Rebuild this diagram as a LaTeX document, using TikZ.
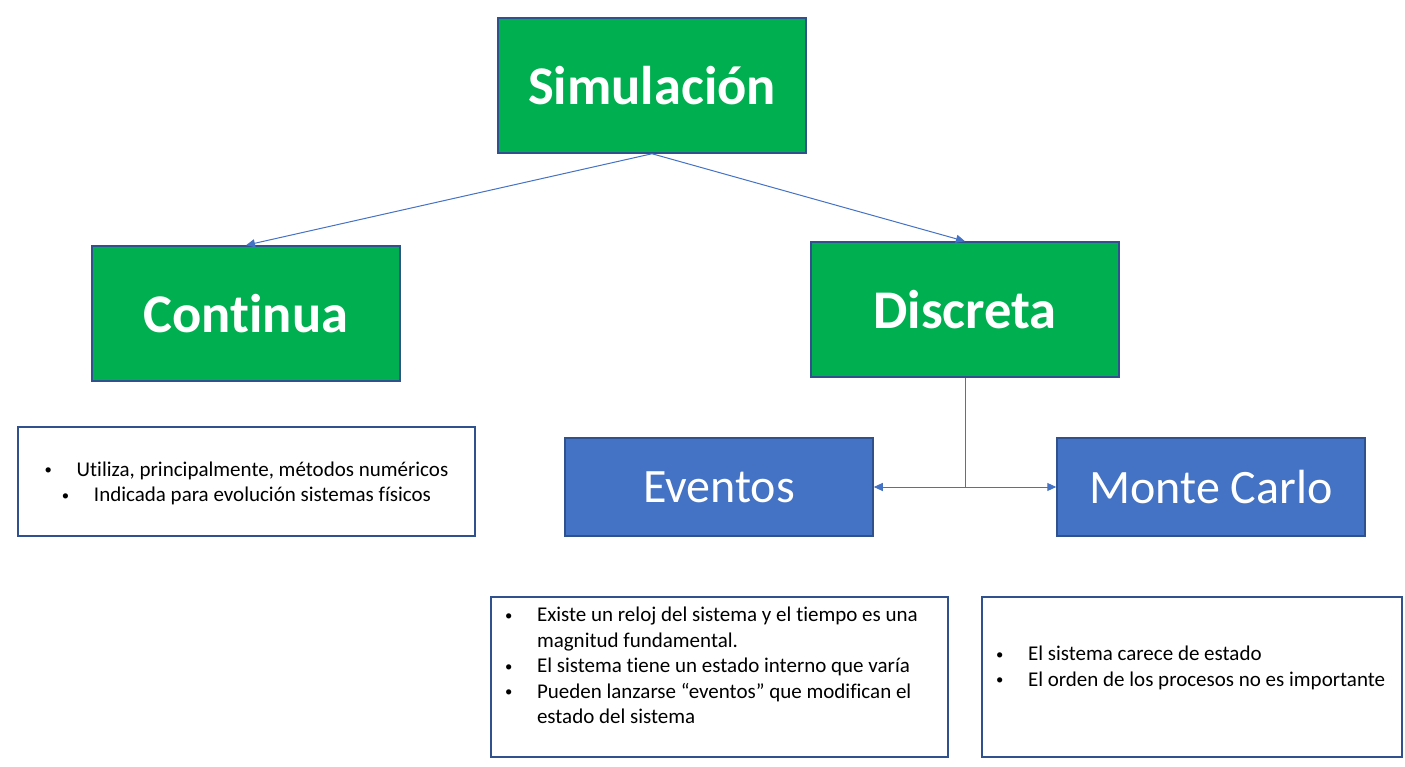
\documentclass[tikz,border=0pt]{standalone}
\usepackage{fontspec}
\setmainfont{Carlito}[Ligatures=NoCommon]
\usetikzlibrary{positioning}
\usetikzlibrary{calc}
\usetikzlibrary{arrows.meta}
\definecolor{boxgreen}{HTML}{00B050}
\definecolor{boxblue}{HTML}{4472C4}
\definecolor{boxborder}{HTML}{2F528F}
\newcommand{\dotmark}{\raisebox{1.8pt}{\scalebox{0.7}{\textbullet}}}
\newcommand{\bitem}[1]{\par\noindent\hangindent=32pt\hangafter=1\makebox[32pt][l]{\dotmark}#1}

\begin{document}
\begin{tikzpicture}[x=1pt,y=-1pt]
		\tikzset{
			titlebox/.style={draw=boxborder,line width=1.5pt,fill=boxgreen,text=white,
				minimum width=308pt,minimum height=135pt,font=\fontsize{54.5}{60}\selectfont\bfseries},
			subbox/.style={draw=boxborder,line width=1.5pt,fill=boxblue,text=white,
				minimum width=308pt,minimum height=98pt,font=\fontsize{48}{54}\selectfont},
			notebox/.style={draw=boxborder,line width=1.5pt,fill=white,text=black,inner sep=0pt,
				font=\fontsize{21}{25.5}\selectfont},
		}
		\tikzset{
			edge/.style={color=boxblue,line width=1pt,-{Triangle[length=9pt,width=8pt]}},
		}
		\useasboundingbox (0,0) rectangle (1405,767);
		
		\node[titlebox] (sim) at (652, 85.5) {Simulación};
		\node[titlebox] (cont) at (246, 313.5) {Continua};
		\node[titlebox] (disc) at (965, 309.5) {Discreta};
		
		\node[subbox] (evt) at (719, 487) {Eventos};
		\node[subbox] (mc) at (1211, 487) {Monte Carlo};
		
		\node[notebox] (contnote) at (246.5, 481.5)
			{\begin{minipage}[c][109pt][c]{457pt}\centering\vspace*{4pt}
			 \makebox[32pt][l]{\dotmark}Utiliza, principalmente, métodos numéricos\\
			 \makebox[32pt][l]{\dotmark}Indicada para evolución sistemas físicos
			 \end{minipage}};
		\node[notebox] (evtnote) at (719.5, 677)
			{\begin{minipage}[c][160pt][t]{457pt}\leftskip=14pt\vspace*{7pt}
			 \bitem{\strut Existe un reloj del sistema y el tiempo es una\\magnitud fundamental.}
			 \bitem{El sistema tiene un estado interno que varía}
			 \bitem{Pueden lanzarse “eventos” que modifican el\\estado del sistema}
			 \end{minipage}};
		\node[notebox] (mcnote) at (1192, 677)
			{\begin{minipage}[c][160pt][t]{420pt}\leftskip=14pt\vspace*{46pt}
			 \bitem{\strut El sistema carece de estado}
			 \bitem{El orden de los procesos no es importante}
			 \end{minipage}};
		
		\coordinate (split) at (disc.south |- evt.east);
		
		\draw[edge] (sim.south) to (cont.north);
		\draw[edge] (sim.south) to (disc.north);
		\draw[edge,-] (disc.south) to (split);
		\draw[edge] (split) to (evt.east);
		\draw[edge] (split) to (mc.west);
	\end{tikzpicture}
\end{document}
